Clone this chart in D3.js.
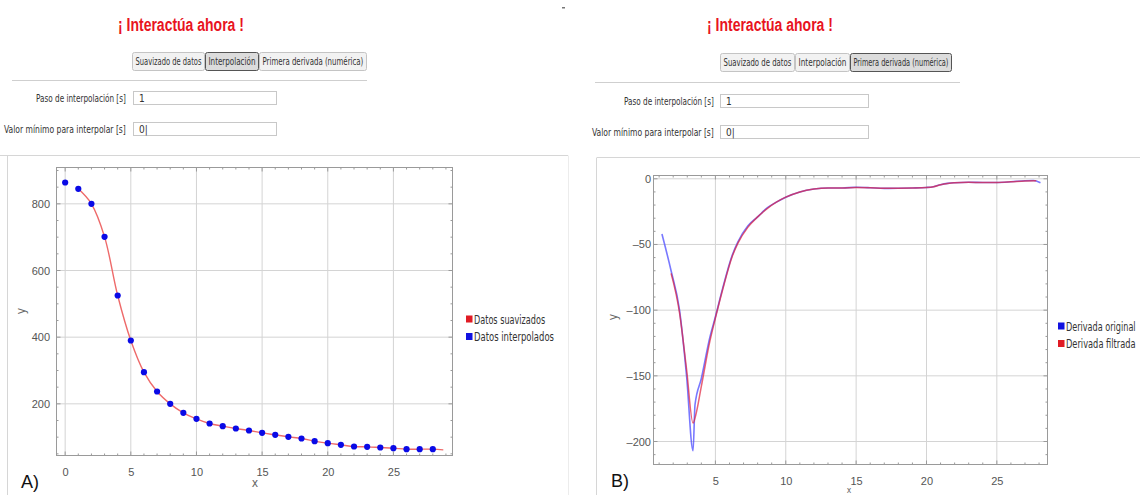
<!DOCTYPE html>
<html>
<head>
<meta charset="utf-8">
<script src="https://cdn.jsdelivr.net/npm/d3@7"></script>
<style>
  body { margin: 0; background: #fff; }
  svg { display: block; font-family: 'Liberation Sans Narrow', 'DejaVu Sans Condensed', 'Liberation Sans', sans-serif; }
</style>
</head>
<body>
<svg id="chart" width="1140" height="495"></svg>
<script>
// --- datos panel A (interpolacion)
var interpX = [0, 1, 2, 3, 4, 5, 6, 7, 8, 9, 10, 11, 12, 13, 14, 15, 16, 17, 18, 19, 20, 21, 22, 23, 24, 25, 26, 27, 28];
var interpY = [864, 845, 800, 701, 525, 390, 295, 237, 200, 173, 155, 141, 133, 126, 120, 113, 107, 101, 96, 88, 82, 77, 72, 71, 69, 67, 64, 64, 64];
var suavX = [1, 2, 3, 4, 5, 6, 7, 8, 9, 10, 11, 12, 13, 14, 15, 16, 17, 18, 19, 20, 21, 22, 23, 24, 25, 26, 27, 28, 28.8];
var suavY = [845, 800, 701, 525, 390, 295, 237, 200, 173, 155, 141, 133, 126, 120, 113, 107, 101, 96, 88, 82, 77, 72, 71, 69, 67, 64, 64, 64, 62];

// --- datos panel B (primera derivada)
var origX = [1.2, 1.85, 2.45, 2.95, 3.41, 3.55, 4.0, 4.6, 5.0, 5.5, 6.2, 6.6, 7.3, 8.0, 8.7, 9.3, 10, 11, 12, 13, 14, 15, 16, 17, 18, 19, 20, 20.5, 21, 21.5, 22, 23, 24, 25, 26, 27, 27.6, 28.1];
var origY = [-42, -70, -100, -150, -207, -172, -152, -121, -105, -84, -58, -48, -36, -29, -22, -18, -14, -10, -7.8, -7, -7, -6.5, -6.8, -7.3, -7.2, -7, -6.6, -6, -4.5, -3.5, -3, -2.6, -2.8, -2.8, -2.3, -1.5, -1.3, -3];
var filtX = [1.85, 2.45, 2.95, 3.41, 3.6, 4.0, 4.6, 5.0, 5.5, 6.2, 6.6, 7.3, 8.0, 8.7, 9.3, 10, 11, 12, 13, 14, 15, 16, 17, 18, 19, 20, 20.5, 21, 21.5, 22, 23, 24, 25, 26, 27, 27.8];
var filtY = [-72, -102, -145, -186, -180, -158, -124, -106, -85, -59, -49, -37, -29, -22.5, -18, -14, -10, -7.8, -7, -7, -6.6, -6.8, -7.3, -7.2, -7, -6.6, -6, -4.6, -3.6, -3, -2.7, -2.8, -2.8, -2.3, -1.6, -1.5];

// ticks / textos
var xTicksA = [0, 5, 10, 15, 20, 25];
var yTicksA = [200, 400, 600, 800];
var xTicksB = [5, 10, 15, 20, 25];
var yTicksB = [0, -50, -100, -150, -200];
var tabLabels = ["Suavizado de datos", "Interpolación", "Primera derivada (numérica)"];
var legendA = ["Datos suavizados", "Datos interpolados"];
var legendB = ["Derivada original", "Derivada filtrada"];

var svg = d3.select("#chart");

function zip(xs, ys) {
    return xs.map(function (x, i) { return {x: x, y: ys[i]}; });
}

// estrecha el texto en horizontal para que ocupe "target" px (letra condensada)
function fit(sel, target) {
    var x = +sel.attr("x"), y = +sel.attr("y");
    var w = sel.node().getComputedTextLength();
    if (w > 0) {
        sel.attr("x", 0).attr("y", 0)
            .attr("transform", "translate(" + x + "," + y + ") scale(" + (target / w).toFixed(3) + ",1)");
    }
    return sel;
}

// cabecera tipo Manipulate
function header(sel, c) {
    var g = svg.append("g");
    var t = g.append("text")
        .attr("x", c.titleX).attr("y", 31)
        .attr("fill", "#e8141e")
        .attr("font-family", "'Liberation Sans', sans-serif")
        .attr("font-weight", "bold").attr("font-size", 19)
        .text("¡ Interactúa ahora !");
    fit(t, 126);

    var x = c.tabX;
    c.tabW.forEach(function (w, i) {
        g.append("rect")
            .attr("x", x + 0.5).attr("y", c.tabY + 0.5)
            .attr("width", w - 1).attr("height", 18)
            .attr("rx", 2)
            .attr("fill", i === sel ? "#dcdcdc" : "#f2f2f2")
            .attr("stroke", i === sel ? "#555" : "#c4c4c4");
        var tt = g.append("text")
            .attr("x", x + 3.5).attr("y", c.tabY + 13)
            .attr("font-size", 10.5).attr("fill", "#333")
            .text(tabLabels[i]);
        fit(tt, w - 7);
        x += w;
    });

    g.append("line")
        .attr("x1", c.sep1[0]).attr("x2", c.sep1[1])
        .attr("y1", c.sep1[2]).attr("y2", c.sep1[2])
        .attr("stroke", "#cfcfcf");

    var rows = [["Paso de interpolación [s]", "1", 90], ["Valor mínimo para interpolar [s]", "0|", 122]];
    rows.forEach(function (r, i) {
        var y = c.rowY[i];
        var lt = g.append("text")
            .attr("x", c.labelR - r[2]).attr("y", y + 10.5)
            .attr("font-size", 10.5).attr("fill", "#333")
            .text(r[0]);
        fit(lt, r[2]);
        g.append("rect")
            .attr("x", c.boxX + 0.5).attr("y", y + 0.5)
            .attr("width", c.boxW).attr("height", 13)
            .attr("fill", "#fff").attr("stroke", "#c8c8c8");
        g.append("text")
            .attr("x", c.boxX + 6).attr("y", y + 10.5)
            .attr("font-size", 10).attr("fill", "#333")
            .text(r[1]);
    });

    g.append("line")
        .attr("x1", c.sep2[0]).attr("x2", c.sep2[1])
        .attr("y1", c.sep2[2]).attr("y2", c.sep2[2])
        .attr("stroke", "#d6d6d6");
}

header(1, {
    titleX: 118, tabX: 132, tabY: 52, tabW: [73, 54, 108],
    sep1: [12, 367, 80.5], labelR: 126, rowY: [91, 122], boxX: 133, boxW: 143,
    sep2: [0, 568, 155.5]
});
header(2, {
    titleX: 707, tabX: 720, tabY: 53, tabW: [75, 55, 102],
    sep1: [595, 960, 82.5], labelR: 714, rowY: [94, 125], boxX: 720, boxW: 148,
    sep2: [597, 1140, 157.5]
});

// bordes de los paneles de salida
svg.append("path").attr("d", "M7.5,495V155.5").attr("stroke", "#d6d6d6").attr("fill", "none");
svg.append("path").attr("d", "M568.5,495V155.5").attr("stroke", "#ececec").attr("fill", "none");
svg.append("path").attr("d", "M596.5,495V157.5").attr("stroke", "#d6d6d6").attr("fill", "none");
svg.append("rect").attr("x", 562).attr("y", 7).attr("width", 3).attr("height", 1.5).attr("fill", "#777");

// marco estilo Mathematica
function frame(g, x, y, c) {
    var L = c.left, R = c.right, T = c.top, B = c.bottom;
    // gridlines
    g.selectAll(".gx").data(c.xTicks).enter().append("line")
        .attr("x1", function (d) { return x(d); }).attr("x2", function (d) { return x(d); })
        .attr("y1", T).attr("y2", B)
        .attr("stroke", "#d4d4d4");
    g.selectAll(".gy").data(c.yTicks).enter().append("line")
        .attr("y1", function (d) { return y(d); }).attr("y2", function (d) { return y(d); })
        .attr("x1", L).attr("x2", R)
        .attr("stroke", "#d4d4d4");

    var xMinor = d3.range(Math.ceil(x.domain()[0]), x.domain()[1], c.xMinorStep);
    var yMinor = d3.range(Math.ceil(y.domain()[0] / c.yMinorStep) * c.yMinorStep, y.domain()[1], c.yMinorStep);

    var tk = g.append("g").attr("stroke", "#9a9a9a");
    xMinor.forEach(function (v) {
        var len = c.xTicks.indexOf(v) >= 0 ? 4 : 2;
        tk.append("line").attr("x1", x(v)).attr("x2", x(v)).attr("y1", B).attr("y2", B - len);
        tk.append("line").attr("x1", x(v)).attr("x2", x(v)).attr("y1", T).attr("y2", T + len);
    });
    yMinor.forEach(function (v) {
        var len = c.yTicks.indexOf(v) >= 0 ? 4 : 2;
        tk.append("line").attr("y1", y(v)).attr("y2", y(v)).attr("x1", L).attr("x2", L + len);
        tk.append("line").attr("y1", y(v)).attr("y2", y(v)).attr("x1", R).attr("x2", R - len);
    });

    g.append("rect")
        .attr("x", L).attr("y", T).attr("width", R - L).attr("height", B - T)
        .attr("fill", "none").attr("stroke", "#9a9a9a");

    var xAxis = d3.axisBottom(x).tickValues(c.xTicks).tickSize(0).tickPadding(0);
    g.append("g").attr("transform", "translate(0," + (B + c.xLabPad) + ")")
        .call(xAxis)
        .call(function (s) { s.select(".domain").remove(); })
        .selectAll("text").attr("font-size", 11).attr("fill", "#555")
        .attr("font-family", "'Liberation Sans', sans-serif");
    var yAxis = d3.axisLeft(y).tickValues(c.yTicks).tickSize(0).tickPadding(0)
        .tickFormat(function (d) { return d < 0 ? "\u2012" + (-d) : d; });
    g.append("g").attr("transform", "translate(" + c.yLabX + ",0)")
        .call(yAxis)
        .call(function (s) { s.select(".domain").remove(); })
        .selectAll("text").attr("font-size", 11).attr("fill", "#555")
        .attr("font-family", "'Liberation Sans', sans-serif");
}

function legend(g, x0, y0, labels, colors, cw) {
    labels.forEach(function (t, i) {
        var yy = y0 + i * 17.5;
        g.append("rect").attr("x", x0).attr("y", yy - 3.5).attr("width", 6.5).attr("height", 7).attr("fill", colors[i]);
        var lt = g.append("text").attr("x", x0 + 8).attr("y", yy + 4.5)
            .attr("font-size", 12.5).attr("fill", "#333")
            .text(t);
        fit(lt, t.length * cw);
    });
}

// ---------- Panel A
(function () {
    var c = {left: 56.5, right: 452.5, top: 167.5, bottom: 455.5,
        xTicks: xTicksA, yTicks: yTicksA, xMinorStep: 1, yMinorStep: 50, xLabPad: 13, yLabX: 50};
    var x = d3.scaleLinear().domain([-0.66, 29.5]).range([c.left, c.right]);
    var y = d3.scaleLinear().domain([45, 909]).range([c.bottom, c.top]);
    var g = svg.append("g");
    frame(g, x, y, c);

    var line = d3.line().x(function (d) { return x(d.x); }).y(function (d) { return y(d.y); })
        .curve(d3.curveCatmullRom.alpha(0.5));
    g.append("path").datum(zip(suavX, suavY))
        .attr("d", line).attr("fill", "none")
        .attr("stroke", "#ee6a6a").attr("stroke-width", 1.4);

    g.selectAll(".pt").data(zip(interpX, interpY)).enter().append("circle")
        .attr("cx", function (d) { return x(d.x); })
        .attr("cy", function (d) { return y(d.y); })
        .attr("r", 3.1).attr("fill", "#0a0ae6");

    legend(g, 466, 319, legendA, ["#e01b24", "#1212e0"], 4.45);

    g.append("text").attr("x", 25).attr("y", 311)
        .attr("transform", "rotate(-90,25,311)").attr("text-anchor", "middle")
        .attr("font-size", 12).attr("fill", "#666").text("y");
    g.append("text").attr("x", 255).attr("y", 487).attr("text-anchor", "middle")
        .attr("font-size", 12).attr("fill", "#666").text("x");
    g.append("text").attr("x", 21).attr("y", 488)
        .attr("font-family", "'Liberation Sans', sans-serif")
        .attr("font-size", 18).attr("fill", "#111").text("A)");
})();

// ---------- Panel B
(function () {
    var c = {left: 653.5, right: 1047.5, top: 175.5, bottom: 464.5,
        xTicks: xTicksB, yTicks: yTicksB, xMinorStep: 1, yMinorStep: 10, xLabPad: 13, yLabX: 651};
    var x = d3.scaleLinear().domain([0.6, 28.6]).range([c.left, c.right]);
    var y = d3.scaleLinear().domain([-217.5, 2.5]).range([c.bottom, c.top]);
    var g = svg.append("g");
    frame(g, x, y, c);

    var line = d3.line().x(function (d) { return x(d.x); }).y(function (d) { return y(d.y); })
        .curve(d3.curveMonotoneX);
    g.append("path").datum(zip(origX, origY))
        .attr("d", line).attr("fill", "none")
        .attr("stroke", "#4b4bff").attr("stroke-opacity", 0.75).attr("stroke-width", 1.6);
    g.append("path").datum(zip(filtX, filtY))
        .attr("d", line).attr("fill", "none")
        .attr("stroke", "#e0203c").attr("stroke-opacity", 0.7).attr("stroke-width", 1.5);

    legend(g, 1058, 326, legendB, ["#1212e0", "#e01b24"], 4.1);

    g.append("text").attr("x", 617).attr("y", 317)
        .attr("transform", "rotate(-90,617,317)").attr("text-anchor", "middle")
        .attr("font-size", 12).attr("fill", "#666").text("y");
    g.append("text").attr("x", 849).attr("y", 492.5).attr("text-anchor", "middle")
        .attr("font-size", 8.5).attr("fill", "#666").text("x");
    g.append("text").attr("x", 611).attr("y", 487)
        .attr("font-family", "'Liberation Sans', sans-serif")
        .attr("font-size", 18).attr("fill", "#111").text("B)");
})();
</script>
</body>
</html>
